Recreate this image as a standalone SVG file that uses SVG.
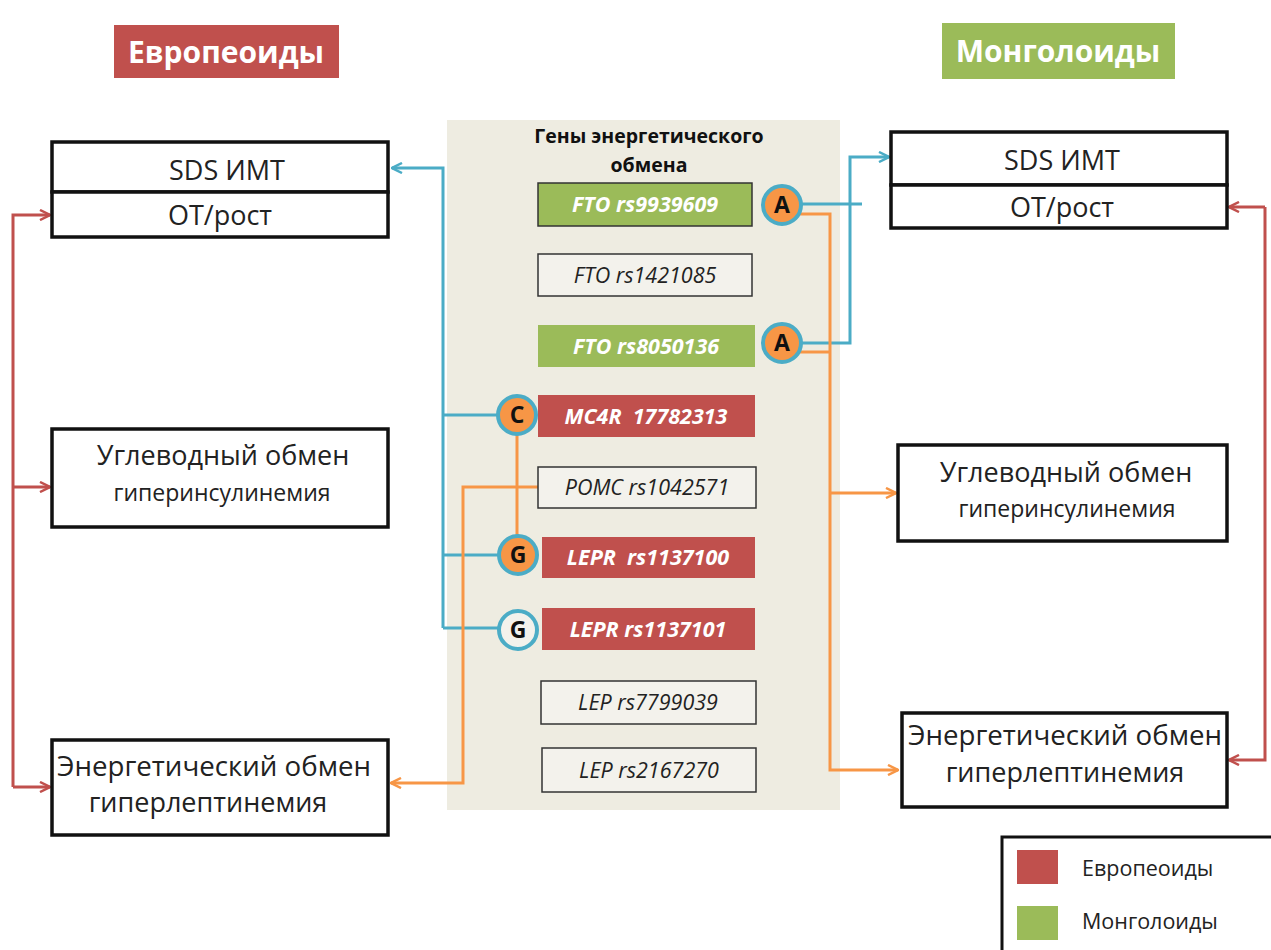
<svg xmlns="http://www.w3.org/2000/svg" width="1271" height="950" viewBox="0 0 1271 950">
<style>
.box{fill:#fff;stroke:#111;stroke-width:3.5}
.t{font-family:"Open Sans","Noto Sans","Liberation Sans",sans-serif;fill:#222;text-anchor:middle}
.big{font-size:27px}
.small{font-size:23px}
.title{font-family:"Open Sans","Liberation Sans",sans-serif;font-weight:bold;font-size:30px;fill:#fff;text-anchor:middle}
.gene{font-family:"Open Sans","Liberation Sans",sans-serif;font-style:italic;font-size:21.5px;text-anchor:middle}
.gw{fill:#fff;font-weight:bold}
.gd{fill:#222}
.gbox{fill:#f3f2ec;stroke:#333;stroke-width:1.5}
.red{fill:#c0504d}
.green{fill:#9bbb59}
.circ{stroke:#4bacc6;stroke-width:4}
.letter{font-family:"Open Sans","Liberation Sans",sans-serif;font-weight:bold;font-size:23px;fill:#111;text-anchor:middle}
.cb{fill:none;stroke:#4bacc6;stroke-width:3}
.co{fill:none;stroke:#f79646;stroke-width:3}
.cr{fill:none;stroke:#c0504d;stroke-width:3}
</style>
<defs>
<marker id="ab" viewBox="0 0 12 12" refX="11" refY="6" markerWidth="12" markerHeight="12" markerUnits="userSpaceOnUse" orient="auto"><path d="M1,1 L11,6 L1,11" fill="none" stroke="#4bacc6" stroke-width="2.5"/></marker>
<marker id="ao" viewBox="0 0 12 12" refX="11" refY="6" markerWidth="12" markerHeight="12" markerUnits="userSpaceOnUse" orient="auto"><path d="M1,1 L11,6 L1,11" fill="none" stroke="#f79646" stroke-width="2.5"/></marker>
<marker id="ar" viewBox="0 0 12 12" refX="11" refY="6" markerWidth="12" markerHeight="12" markerUnits="userSpaceOnUse" orient="auto"><path d="M1,1 L11,6 L1,11" fill="none" stroke="#c0504d" stroke-width="2.5"/></marker>
</defs>
<rect width="1271" height="950" fill="#fff"/>

<g id="title-left"><rect x="114" y="25" width="225" height="53" class="red"/><text x="226" y="63" class="title">Европеоиды</text></g>
<g id="title-right"><rect x="942" y="23" width="233" height="56" class="green"/><text x="1058" y="62" class="title">Монголоиды</text></g>

<g id="gene-panel"><rect x="447" y="120" width="393" height="690" fill="#eeece1"/>
<text x="649" y="143" class="t" style="font-weight:bold;font-size:19.5px;fill:#111">Гены энергетического</text>
<text x="649" y="172" class="t" style="font-weight:bold;font-size:19.5px;fill:#111">обмена</text></g>

<g id="connectors">
<path class="cb" d="M443,628 L443,168 L392,168" marker-end="url(#ab)"/>
<path class="cb" d="M443,415 L497,415"/>
<path class="cb" d="M443,555 L498,555"/>
<path class="cb" d="M443,628 L498,628"/>
<path class="cb" d="M802,204 L862,204"/>
<path class="cb" d="M802,343 L850,343 L850,157 L889,157" marker-end="url(#ab)"/>
<path class="co" d="M800,214 L830,214 L830,770 L898,770" marker-end="url(#ao)"/>
<path class="co" d="M800,352 L830,352"/>
<path class="co" d="M830,493 L896,493" marker-end="url(#ao)"/>
<path class="co" d="M538,487 L463,487 L463,783 L391,783" marker-end="url(#ao)"/>
<path class="co" d="M517,435 L517,535"/>
<path class="cr" d="M13,787 L13,215 L50,215" marker-end="url(#ar)"/>
<path class="cr" d="M13,487 L50,487" marker-end="url(#ar)"/>
<path class="cr" d="M13,787 L50,787" marker-end="url(#ar)"/>
<path class="cr" d="M1265,207 L1265,760 L1229,760" marker-end="url(#ar)"/>
<path class="cr" d="M1265,207 L1229,207" marker-end="url(#ar)"/>
</g>

<g id="left-sds"><rect x="52" y="142" width="336" height="50" class="box"/><text x="227" y="180" class="t big">SDS ИМТ</text></g>
<g id="left-ot"><rect x="52" y="192" width="336" height="45" class="box"/><text x="220" y="225" class="t big">ОТ/рост</text></g>
<g id="left-carb"><rect x="52" y="429" width="336" height="98" class="box"/><text x="223" y="465" class="t big">Углеводный обмен</text><text x="222" y="501" class="t small">гиперинсулинемия</text></g>
<g id="left-energy"><rect x="52" y="740" width="336" height="95" class="box"/><text x="214" y="776" class="t big" textLength="314" lengthAdjust="spacingAndGlyphs">Энергетический обмен</text><text x="208" y="812" class="t big">гиперлептинемия</text></g>

<g id="right-sds"><rect x="891" y="132" width="336" height="53" class="box"/><text x="1062" y="170" class="t big">SDS ИМТ</text></g>
<g id="right-ot"><rect x="891" y="185" width="336" height="43" class="box"/><text x="1062" y="217" class="t big">ОТ/рост</text></g>
<g id="right-carb"><rect x="898" y="445" width="329" height="96" class="box"/><text x="1066" y="482" class="t big">Углеводный обмен</text><text x="1067" y="517" class="t small">гиперинсулинемия</text></g>
<g id="right-energy"><rect x="902" y="713" width="325" height="94" class="box"/><text x="1065" y="745" class="t big" textLength="314" lengthAdjust="spacingAndGlyphs">Энергетический обмен</text><text x="1065" y="782" class="t big">гиперлептинемия</text></g>

<g id="g-fto1"><rect x="538" y="183" width="214" height="43" class="green" stroke="#333" stroke-width="1.5"/><text x="645" y="212" class="gene gw">FTO rs9939609</text></g>
<g id="g-fto2"><rect x="538" y="254" width="214" height="42" class="gbox"/><text x="645" y="283" class="gene gd">FTO rs1421085</text></g>
<g id="g-fto3"><rect x="538" y="325" width="217" height="42" class="green"/><text x="646" y="354" class="gene gw">FTO rs8050136</text></g>
<g id="g-mc4r"><rect x="538" y="395" width="217" height="42" class="red"/><text x="646" y="424" class="gene gw" xml:space="preserve">MC4R  17782313</text></g>
<g id="g-pomc"><rect x="538" y="467" width="218" height="41" class="gbox"/><text x="647" y="495" class="gene gd">POMC rs1042571</text></g>
<g id="g-lepr1"><rect x="542" y="537" width="213" height="41" class="red"/><text x="648" y="565" class="gene gw" xml:space="preserve">LEPR  rs1137100</text></g>
<g id="g-lepr2"><rect x="542" y="608" width="213" height="42" class="red"/><text x="648" y="637" class="gene gw">LEPR rs1137101</text></g>
<g id="g-lep1"><rect x="541" y="681" width="215" height="43" class="gbox"/><text x="648" y="710" class="gene gd">LEP rs7799039</text></g>
<g id="g-lep2"><rect x="542" y="748" width="214" height="44" class="gbox"/><text x="649" y="778" class="gene gd">LEP rs2167270</text></g>

<g id="c-a1"><circle cx="782" cy="205" r="19" fill="#f79646" class="circ"/><text x="782" y="213" class="letter">A</text></g>
<g id="c-a2"><circle cx="782" cy="343" r="19" fill="#f79646" class="circ"/><text x="782" y="351" class="letter">A</text></g>
<g id="c-c"><circle cx="517" cy="415" r="19" fill="#f79646" class="circ"/><text x="517" y="423" class="letter">C</text></g>
<g id="c-g1"><circle cx="518" cy="555" r="19" fill="#f79646" class="circ"/><text x="518" y="563" class="letter">G</text></g>
<g id="c-g2"><circle cx="518" cy="630" r="19" fill="#f3f2ec" class="circ"/><text x="518" y="638" class="letter">G</text></g>

<g id="legend"><rect x="1002" y="837" width="290" height="130" fill="#fff" stroke="#111" stroke-width="3"/>
<rect x="1017" y="850" width="41" height="34" class="red"/><text x="1082" y="876" class="t" style="text-anchor:start;font-size:21.5px">Европеоиды</text>
<rect x="1017" y="906" width="41" height="34" class="green"/><text x="1082" y="929" class="t" style="text-anchor:start;font-size:21.5px">Монголоиды</text></g>
</svg>
